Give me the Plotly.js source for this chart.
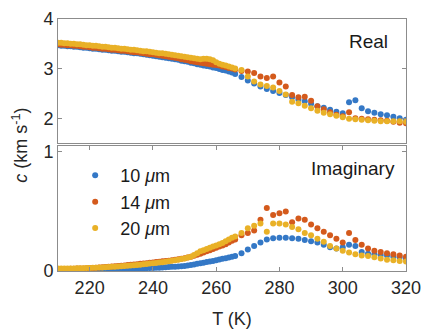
<!DOCTYPE html>
<html>
<head>
<meta charset="utf-8">
<script src="https://cdn.plot.ly/plotly-3.0.1.min.js"></script>
<style>html,body{margin:0;padding:0;background:#fff;}#chart{width:426px;height:330px;}</style>
</head>
<body>
<div id="chart"></div>
<script>
// Temperature grid (K)
var T = [210,211,212,213,214,215,216,217,218,219,220,221,222,223,224,225,226,227,228,229,
230,231,232,233,234,235,236,237,238,239,240,241,242,243,244,245,246,247,248,249,
250,251,252,253,254,255,256,257,258,259,260,261,262,263,264,265,
266,268,270,272,274,276,278,280,282,284,286,288,290,292,294,296,298,300,302,304,306,308,310,312,314,316,318,320];

var seriesNames = ['10 <i>μ</i>m', '14 <i>μ</i>m', '20 <i>μ</i>m'];

// Real part (km/s)
var real10 = [3.47,3.46,3.46,3.45,3.45,3.44,3.44,3.43,3.42,3.42,3.41,3.40,3.40,3.39,3.38,3.38,3.37,3.36,3.36,3.35,
3.34,3.34,3.33,3.32,3.31,3.31,3.30,3.29,3.28,3.27,3.26,3.25,3.24,3.23,3.22,3.21,3.20,3.19,3.18,3.16,
3.15,3.14,3.12,3.11,3.09,3.08,3.06,3.05,3.04,3.02,3.01,2.99,2.97,2.96,2.94,2.92,
2.89,2.83,2.76,2.70,2.64,2.59,2.55,2.51,2.47,2.42,2.37,2.34,2.29,2.24,2.21,2.17,2.13,2.10,2.32,2.36,2.20,2.14,2.11,2.08,2.06,2.03,2.00,1.97];
var real14 = [3.49,3.48,3.48,3.47,3.47,3.46,3.46,3.45,3.44,3.44,3.43,3.42,3.42,3.41,3.40,3.40,3.39,3.38,3.38,3.37,
3.36,3.36,3.35,3.34,3.33,3.33,3.32,3.31,3.30,3.29,3.29,3.28,3.27,3.26,3.25,3.24,3.23,3.22,3.21,3.19,
3.18,3.17,3.15,3.14,3.13,3.12,3.11,3.10,3.09,3.08,3.07,3.06,3.04,3.03,3.01,3.00,
2.98,2.95,2.94,2.91,2.84,2.81,2.84,2.72,2.64,2.47,2.42,2.43,2.35,2.24,2.18,2.12,2.07,2.04,2.12,2.00,1.99,1.98,1.97,1.96,1.95,1.93,1.91,1.90];
var real20 = [3.52,3.52,3.51,3.51,3.50,3.50,3.49,3.49,3.48,3.47,3.47,3.46,3.46,3.45,3.44,3.44,3.43,3.42,3.42,3.41,
3.40,3.40,3.39,3.38,3.38,3.37,3.36,3.35,3.35,3.34,3.33,3.32,3.31,3.31,3.30,3.29,3.28,3.27,3.26,3.25,
3.24,3.23,3.22,3.21,3.20,3.19,3.20,3.20,3.19,3.17,3.13,3.10,3.08,3.06,3.04,3.02,
3.00,2.97,2.84,2.74,2.68,2.65,2.62,2.55,2.48,2.33,2.30,2.25,2.20,2.15,2.11,2.08,2.05,2.02,1.99,1.98,1.97,1.96,1.95,1.94,1.94,1.94,1.94,1.93];

// Imaginary part (km/s)
var imag10 = [0.010,0.010,0.010,0.011,0.011,0.011,0.012,0.012,0.012,0.013,0.013,0.013,0.014,0.014,0.015,0.015,0.016,0.016,0.017,0.017,
0.018,0.018,0.019,0.020,0.020,0.021,0.022,0.023,0.024,0.025,0.026,0.027,0.028,0.030,0.031,0.033,0.035,0.036,0.038,0.040,
0.043,0.047,0.051,0.055,0.060,0.065,0.070,0.075,0.080,0.085,0.090,0.096,0.102,0.108,0.114,0.120,
0.125,0.150,0.180,0.210,0.240,0.265,0.275,0.280,0.280,0.275,0.270,0.260,0.250,0.240,0.220,0.200,0.190,0.200,0.220,0.210,0.160,0.145,0.140,0.135,0.130,0.120,0.115,0.105];
var imag14 = [0.015,0.016,0.016,0.017,0.018,0.019,0.020,0.021,0.022,0.023,0.025,0.026,0.028,0.030,0.032,0.034,0.036,0.038,0.040,0.042,
0.045,0.047,0.050,0.052,0.055,0.057,0.060,0.063,0.066,0.069,0.072,0.075,0.078,0.081,0.084,0.087,0.090,0.094,0.098,0.102,
0.107,0.113,0.120,0.128,0.136,0.145,0.155,0.165,0.175,0.185,0.195,0.205,0.215,0.225,0.240,0.255,
0.265,0.300,0.320,0.340,0.430,0.530,0.470,0.485,0.500,0.410,0.440,0.430,0.390,0.360,0.330,0.300,0.270,0.240,0.320,0.260,0.220,0.190,0.170,0.160,0.150,0.140,0.130,0.120];
var imag20 = [0.020,0.020,0.021,0.021,0.022,0.022,0.023,0.023,0.024,0.025,0.026,0.027,0.028,0.029,0.030,0.032,0.033,0.035,0.036,0.038,
0.040,0.042,0.044,0.046,0.048,0.050,0.053,0.056,0.059,0.062,0.065,0.068,0.071,0.074,0.078,0.082,0.086,0.090,0.095,0.100,
0.106,0.113,0.120,0.135,0.150,0.165,0.175,0.185,0.195,0.205,0.215,0.225,0.235,0.250,0.265,0.280,
0.290,0.320,0.360,0.380,0.400,0.330,0.400,0.400,0.390,0.370,0.350,0.320,0.300,0.270,0.245,0.210,0.190,0.170,0.155,0.140,0.130,0.125,0.115,0.105,0.095,0.090,0.085,0.080];

var colors = ['#3478c6', '#d45a1c', '#e9b127'];
var realSets = [real10, real14, real20];
var imagSets = [imag10, imag14, imag20];

var traces = [];
for (var i = 0; i < 3; i++) {
  traces.push({x: T, y: realSets[i], xaxis: 'x2', yaxis: 'y2', type: 'scatter', mode: 'markers',
    marker: {color: colors[i], size: 6}, showlegend: false, hoverinfo: 'skip'});
}
for (var j = 0; j < 3; j++) {
  traces.push({x: T, y: imagSets[j], xaxis: 'x', yaxis: 'y', type: 'scatter', mode: 'markers',
    name: seriesNames[j], marker: {color: colors[j], size: 6}, showlegend: true, hoverinfo: 'skip'});
}

var fontFam = 'Liberation Sans, Arial, sans-serif';
var axisCommon = {showline: true, linecolor: '#8c8c8c', linewidth: 1, mirror: 'ticks', ticks: 'inside',
  ticklen: 4, tickcolor: '#8c8c8c', showgrid: false, zeroline: false,
  tickfont: {family: fontFam, size: 18, color: '#262626'}};

var layout = {
  width: 426, height: 330,
  margin: {l: 58, r: 20, t: 19, b: 59},
  paper_bgcolor: '#fff', plot_bgcolor: '#fff',
  showlegend: true,
  legend: {x: 0.035, y: 0.452, xanchor: 'left', yanchor: 'top', bgcolor: 'rgba(0,0,0,0)',
    font: {family: fontFam, size: 18, color: '#1a1a1a'}, itemwidth: 40, tracegroupgap: 0},
  xaxis: Object.assign({}, axisCommon, {domain: [0, 1], anchor: 'y', range: [210, 320],
    tickvals: [220, 240, 260, 280, 300, 320],
    title: {text: 'T (K)', font: {family: fontFam, size: 18, color: '#262626'}, standoff: 15}}),
  yaxis: Object.assign({}, axisCommon, {domain: [0, 0.496], anchor: 'x', range: [0, 1.05], tickvals: [0, 1]}),
  xaxis2: Object.assign({}, axisCommon, {domain: [0, 1], anchor: 'y2', range: [210, 320], matches: 'x',
    showticklabels: false, ticks: '', mirror: true}),
  yaxis2: Object.assign({}, axisCommon, {domain: [0.508, 1], anchor: 'x2', range: [1.5, 4], tickvals: [2, 3, 4]}),
  annotations: [
    {text: 'Real', xref: 'paper', yref: 'paper', x: 0.955, y: 0.91, xanchor: 'right', yanchor: 'middle',
      showarrow: false, font: {family: fontFam, size: 19, color: '#1a1a1a'}},
    {text: 'Imaginary', xref: 'paper', yref: 'paper', x: 0.975, y: 0.405, xanchor: 'right', yanchor: 'middle',
      showarrow: false, font: {family: fontFam, size: 19, color: '#1a1a1a'}},
    {text: '<i>c</i> (km s<sup>-1</sup>)', xref: 'paper', yref: 'paper', x: -0.11, y: 0.50,
      xanchor: 'center', yanchor: 'middle', textangle: -90, showarrow: false,
      font: {family: fontFam, size: 18, color: '#262626'}}
  ]
};

Plotly.newPlot('chart', traces, layout, {staticPlot: true, displayModeBar: false});
</script>
</body>
</html>
